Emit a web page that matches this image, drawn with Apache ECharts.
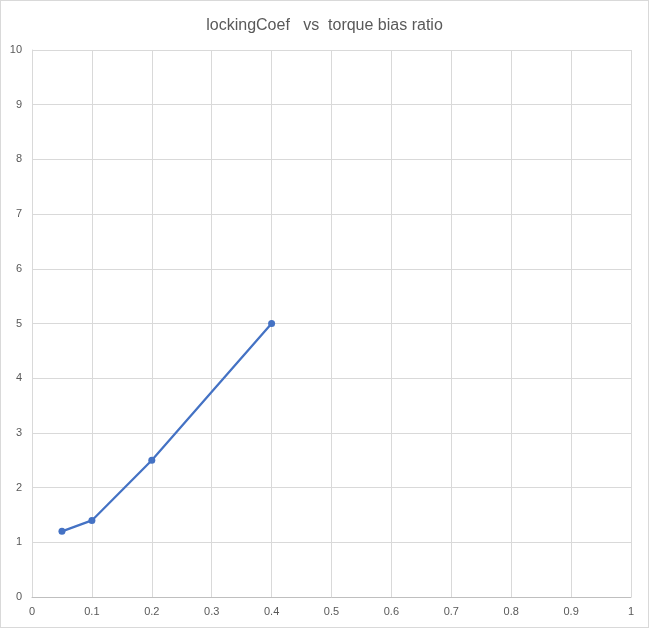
<!DOCTYPE html>
<html><head><meta charset="utf-8">
<script src="https://cdn.jsdelivr.net/npm/echarts@6/dist/echarts.min.js"></script>
<style>html,body{margin:0;padding:0;background:#fff}#c{width:649px;height:628px;box-sizing:border-box;border:1px solid #d9d9d9}</style>
</head><body><div id="c"></div>
<script>
const xValues = [0.05, 0.1, 0.2, 0.4];
const yValues = [1.2, 1.4, 2.5, 5.0];
const titleText = 'lockingCoef   vs  torque bias ratio';
const chart = echarts.init(document.getElementById('c'), null, {renderer: 'canvas'});
const font = "'Liberation Sans', 'DejaVu Sans', sans-serif";
chart.setOption({
  animation: false,
  title: {text: titleText, left: 'center', top: 12,
    textStyle: {fontFamily: font, fontSize: 16, fontWeight: 'normal', color: '#595959'}},
  grid: {left: 31, right: 17, top: 49, bottom: 30, containLabel: false},
  xAxis: {type: 'value', min: 0, max: 1, interval: 0.1,
    axisLine: {show: true, lineStyle: {color: '#bfbfbf', width: 1}},
    axisTick: {show: false},
    splitLine: {show: true, lineStyle: {color: '#d9d9d9', width: 1}},
    axisLabel: {color: '#595959', fontSize: 11, fontFamily: font, margin: 9,
      formatter: v => String(Math.round(v*10)/10)}},
  yAxis: {type: 'value', min: 0, max: 10, interval: 1,
    axisLine: {show: true, lineStyle: {color: '#d9d9d9'}},
    axisTick: {show: false},
    splitLine: {show: true, lineStyle: {color: '#d9d9d9', width: 1}},
    axisLabel: {color: '#595959', fontSize: 11, fontFamily: font, margin: 10}},
  series: [{type: 'line', data: xValues.map((x, i) => [x, yValues[i]]),
    symbol: 'circle', symbolSize: 7,
    lineStyle: {color: '#4472C4', width: 2.25},
    itemStyle: {color: '#4472C4'}}]
});
</script></body></html>
